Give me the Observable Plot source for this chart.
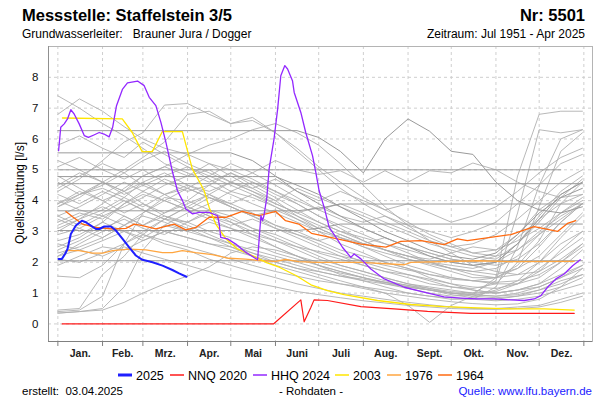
<!DOCTYPE html>
<html><head><meta charset="utf-8">
<script src="https://cdn.jsdelivr.net/npm/d3@7"></script>
<script src="https://cdn.jsdelivr.net/npm/@observablehq/plot@0.6"></script>
<style>body{margin:0;background:#fff}svg{font-family:"Liberation Sans",Arial,sans-serif}</style>
</head><body><div id="chart"></div>
<script>
// ---- axis data ----
const monthStarts = [0,31,59,90,120,151,181,212,243,273,304,334,365];
const monthLabels = ["Jan.","Feb.","Mrz.","Apr.","Mai","Juni","Juli","Aug.","Sept.","Okt.","Nov.","Dez."];
const yTicks = [0,1,2,3,4,5,6,7,8];

// ---- background years (semi-monthly readings) ----
const grayDays = [0,15,31,46,59,74,90,105,120,135,151,166,181,196,212,227,243,258,273,288,304,319,334,349,364];
const flatYears = [
  [6.27,6.27,6.27,6.27,6.27,6.27,6.27,6.27,6.27,6.27,6.27,6.27,6.05,5.6,4.9,6.0,6.65,6.25,5.6,5.5,4.6,4.0,3.7,3.6,3.8],
  [5.55,5.55,5.55,5.55,5.55,5.55,5.55,5.55,5.55,5.3,4.8,4.3,3.9,3.5,3.1,2.8,2.5,2.2,2.0,1.9,2.0,2.6,3.4,4.2,4.6],
  [5.0,5.0,5.0,5.0,5.0,5.0,5.0,5.0,5.0,5.0,5.0,5.0,5.0,5.0,5.0,5.0,5.0,5.0,5.0,5.0,5.0,5.0,5.0,5.0,null],
  [4.78,4.78,4.78,4.78,4.78,4.78,4.78,4.78,4.78,4.78,4.78,4.5,4.2,3.8,3.4,3.0,2.7,2.4,2.2,2.1,2.3,2.9,3.6,4.1,4.4],
  [4.55,4.55,4.55,4.55,4.55,4.55,4.55,4.55,4.55,4.55,4.55,4.55,4.55,4.55,4.55,4.55,4.55,4.55,4.55,4.55,4.55,4.55,4.55,4.55,4.55],
  [3.67,3.67,3.67,3.67,3.67,3.67,3.67,3.67,3.67,3.67,3.67,3.67,3.75,3.89,3.89,3.89,3.89,3.89,3.89,3.89,3.89,3.89,3.89,3.89,3.89],
  [3.03,3.03,3.03,3.03,3.03,3.03,3.03,3.03,3.03,3.03,3.03,3.03,3.1,3.24,3.24,3.24,3.24,3.24,3.24,3.24,3.24,3.24,3.24,3.24,3.24],
  [2.05,2.05,2.05,2.05,2.05,2.05,2.05,2.05,2.05,2.05,2.05,2.05,2.05,2.05,2.05,2.05,2.05,2.05,2.05,2.05,2.05,2.05,2.05,2.05,2.05]
];
const grayYears = [
  [7.4,7.0,6.5,6.1,5.7,5.2,4.9,4.6,4.9,4.5,4.1,3.7,3.3,3.0,2.7,2.4,2.2,2.0,1.8,1.7,1.8,2.2,2.9,3.6,4.1],
  [6.8,7.3,6.9,6.4,6.0,5.7,5.5,5.2,4.8,4.4,4.0,3.5,3.1,2.8,2.5,2.2,1.9,1.7,1.5,1.4,1.3,1.3,1.5,2.0,2.6],
  [4.3,4.7,5.3,5.9,6.2,7.1,7.15,6.8,6.5,6.6,6.2,5.6,5.0,4.4,3.9,3.5,3.1,2.8,2.5,2.3,2.4,2.9,3.7,4.2,4.6],
  [0.35,0.4,0.5,1.2,2.4,3.2,3.6,3.9,4.3,4.1,3.8,3.4,3.0,2.6,2.3,2.0,1.8,1.5,1.3,1.1,1.0,1.1,1.3,1.6,1.9],
  [0.4,0.45,0.9,2.6,3.6,4.1,4.0,4.5,4.9,4.6,4.2,3.9,3.5,3.1,2.7,2.4,2.1,1.9,1.7,1.5,1.5,1.8,2.5,3.3,3.9],
  [0.35,0.4,0.45,0.7,1.0,1.3,1.55,1.85,2.3,2.5,2.4,2.2,2.0,1.8,1.6,1.4,1.25,1.1,0.95,0.85,0.8,0.9,1.1,1.4,1.6],
  [0.45,0.5,1.6,2.2,2.9,3.4,3.3,3.7,3.5,3.1,2.8,2.5,2.2,1.9,1.7,1.5,1.3,1.15,1.0,0.9,0.85,0.9,1.0,1.2,1.5],
  [1.55,1.5,1.9,2.6,3.0,3.4,3.8,4.2,3.9,3.6,3.2,2.9,2.6,2.3,2.0,1.8,1.6,1.4,1.2,1.1,1.0,1.1,1.2,1.5,1.8],
  [3.0,3.4,3.9,4.4,4.8,5.1,5.5,5.8,6.0,6.3,6.5,6.2,5.8,5.2,4.5,3.8,3.2,2.7,2.3,1.9,1.7,1.6,1.7,2.1,2.6],
  [2.2,2.6,3.0,3.5,3.2,3.6,4.0,3.7,3.3,2.9,2.5,2.2,1.9,1.6,1.4,1.2,1.0,0.9,0.8,0.8,1.2,2.5,4.5,6.0,6.3],
  [2.5,2.8,3.3,3.9,4.3,4.0,3.7,3.4,3.1,2.8,2.5,2.2,1.9,1.7,1.5,1.3,1.15,1.0,0.9,0.95,1.5,4.8,6.8,6.9,6.9],
  [3.8,4.2,4.4,4.1,4.6,4.9,4.5,4.2,3.8,3.5,3.1,2.8,2.5,2.2,1.9,1.7,1.5,1.3,1.2,1.15,1.3,2.0,3.8,5.6,6.2],
  [4.8,4.4,4.0,4.3,3.9,3.6,3.9,4.2,4.6,4.3,3.9,3.6,3.3,3.0,2.8,2.6,2.4,2.2,2.0,1.9,2.0,2.4,3.0,3.5,3.9],
  [2.9,3.1,2.8,3.2,3.5,3.3,3.0,2.8,2.6,2.4,2.2,2.0,1.8,1.65,1.5,1.35,1.2,1.1,1.0,0.95,0.9,0.95,1.1,1.3,1.6],
  [4.0,3.7,3.5,3.8,4.1,4.5,4.8,5.2,5.0,4.7,4.3,3.9,3.5,3.2,2.9,2.6,2.3,2.0,1.8,1.6,1.5,1.6,2.0,2.8,3.5],
  [5.3,5.0,4.6,4.2,4.5,4.2,3.8,3.5,3.3,3.0,2.7,2.4,2.1,1.9,1.7,1.5,1.3,1.2,1.1,1.0,1.0,1.1,1.3,1.8,2.4],
  [2.4,2.7,3.1,3.4,3.1,2.9,3.3,3.6,3.4,3.1,2.9,2.6,2.3,2.1,1.9,1.7,1.6,1.45,1.3,1.2,1.15,1.3,1.7,2.4,3.0],
  [3.5,3.8,4.2,4.6,4.3,4.7,4.4,4.8,5.2,4.9,5.3,5.0,4.85,4.97,4.6,4.97,4.6,4.97,4.9,5.22,5.0,4.6,4.3,4.1,4.2],
  [3.8,4.1,4.6,5.0,5.4,5.9,6.8,6.9,6.5,6.7,6.2,5.7,5.1,4.6,4.1,3.7,3.3,2.9,2.6,2.3,2.2,2.4,2.9,3.4,3.9],
  [2.1,2.0,2.3,2.6,2.9,2.7,2.5,2.3,2.1,1.9,1.7,1.55,1.4,1.3,1.2,1.1,1.0,0.9,0.85,0.8,0.75,0.8,0.9,1.1,1.3],
  [3.3,3.6,3.4,3.9,4.2,4.0,3.7,4.1,3.8,3.5,3.2,3.0,2.7,2.4,2.2,2.0,1.8,1.6,1.45,1.4,1.5,1.9,2.7,3.9,4.6],
  [3.9,4.3,4.0,3.6,3.9,3.5,3.2,2.9,2.6,2.3,2.0,1.8,1.6,1.4,1.2,1.0,0.6,0.05,0.6,0.9,1.1,1.4,2.0,2.6,3.0],
  [5.8,6.1,5.7,5.4,5.9,5.5,5.1,4.8,4.5,4.2,3.8,3.5,3.2,2.9,2.6,2.4,2.2,2.0,1.9,1.8,2.0,2.6,3.5,4.3,4.8],
  [4.6,4.2,4.5,4.9,5.3,5.6,5.2,4.9,4.6,4.9,4.5,4.1,3.7,3.4,3.1,2.8,2.5,2.3,2.1,2.0,2.2,2.8,3.4,3.9,4.2],
  [2.7,2.9,3.3,3.0,2.7,3.0,2.8,2.6,2.4,2.2,2.0,1.8,1.7,1.55,1.45,1.35,1.25,1.15,1.05,1.0,1.05,1.3,1.8,2.3,2.8],
  [3.2,3.5,3.8,3.5,3.2,3.5,3.3,3.0,2.8,2.6,2.3,2.1,1.9,1.7,1.5,1.35,1.2,1.1,1.0,1.0,1.4,3.6,6.3,6.2,6.3],
  [4.4,4.8,5.2,4.9,4.5,4.8,5.1,4.7,4.3,4.6,4.3,4.0,3.7,3.9,3.6,3.3,3.0,2.7,2.5,2.6,2.9,3.4,4.0,4.6,5.0],
  [3.5,3.2,3.6,4.0,3.7,3.4,3.8,3.5,3.2,3.4,3.1,2.9,2.7,2.9,2.6,2.4,2.2,2.1,2.3,2.5,2.4,2.7,3.1,3.6,4.0],
  [2.3,2.5,2.8,3.2,3.6,4.0,4.4,4.1,3.8,3.5,3.7,3.4,3.1,2.8,2.5,2.3,2.1,1.95,1.8,1.7,1.6,1.8,2.2,2.9,3.6],
  [5.1,5.4,5.0,4.7,5.0,4.6,4.3,4.5,4.2,3.9,3.6,3.3,3.0,2.8,2.6,2.8,2.5,2.3,2.1,2.0,1.9,2.1,2.6,3.3,3.9],
  [1.9,2.2,2.5,2.4,2.7,3.0,2.8,2.6,2.5,2.3,2.1,1.9,1.7,1.55,1.4,1.3,1.2,1.1,1.0,0.95,0.9,1.0,1.2,1.5,1.9],
  [2.6,2.4,2.7,3.0,2.8,3.2,3.0,3.3,3.1,2.9,2.7,2.5,2.35,2.2,2.05,1.9,1.75,1.6,1.5,1.4,1.35,1.4,1.6,2.0,2.5],
  [3.4,3.1,3.5,3.2,2.9,2.6,2.4,2.1,1.9,1.7,1.5,1.3,1.15,1.0,0.9,0.8,0.7,0.62,0.55,0.5,0.5,0.55,0.6,0.8,1.0],
  [2.2,2.4,2.2,2.5,2.3,2.1,1.9,1.7,1.5,1.35,1.2,1.05,0.95,0.85,0.75,0.68,0.6,0.55,0.5,0.48,0.47,0.5,0.55,0.7,0.9],
  [4.2,3.9,4.3,4.0,3.7,3.4,3.1,2.8,2.5,2.2,1.9,1.7,1.5,1.3,1.15,1.0,0.9,0.8,0.72,0.66,0.62,0.65,0.8,1.2,1.8],
  [3.9,4.2,4.6,4.3,4.8,5.1,4.8,5.0,4.6,4.4,4.7,4.3,4.0,4.3,4.0,3.7,3.9,3.6,3.3,3.5,3.8,4.3,4.9,5.4,5.7],
  [4.5,4.9,4.6,4.3,4.6,4.2,4.4,4.1,3.9,4.2,3.9,3.6,3.8,3.5,3.3,3.5,3.2,3.0,2.8,3.0,3.3,3.9,4.5,5.2,5.5],
  [3.1,3.4,3.7,4.1,3.8,4.2,4.5,4.3,4.6,4.3,4.0,4.4,4.1,3.8,3.5,3.2,2.9,2.6,2.4,2.2,2.1,2.6,3.3,4.1,4.7]
];

// ---- highlighted years: [day of year, Q in l/s] ----
const q2025 = [[0.5,2.11],[2.8,2.11],[5,2.27],[6.7,2.43],[9,2.92],[12.5,3.19],[16.7,3.35],[19.4,3.30],[22.9,3.19],[26.4,3.08],[28.7,3.08],[32.2,3.16],[36.8,3.16],[40.3,3.03],[44.9,2.76],[49.5,2.48],[54.1,2.22],[58.7,2.08],[65.7,2.0],[72.6,1.89],[79.5,1.75],[84.1,1.64],[89.2,1.53]];
const nnq2020 = [[3,0],[149.6,0],[168.6,0.78],[170.9,0.07],[175.6,0.54],[177.8,0.78],[187.1,0.76],[210.3,0.56],[233.4,0.49],[256.5,0.41],[286.6,0.34],[314.4,0.34],[337.5,0.34],[358.3,0.34]];
const hhq2024 = [[0.5,5.62],[2,6.38],[4.4,6.49],[6.7,6.65],[9,6.95],[11.3,6.81],[14.8,6.49],[18.3,6.11],[21.2,6.05],[25,6.13],[28.7,6.21],[32,6.16],[35.6,6.07],[38,6.38],[40.7,7.08],[44.9,7.62],[48.3,7.82],[55.3,7.88],[59.9,7.73],[63.4,7.35],[68,7.08],[71.5,6.54],[75,5.89],[79.6,4.92],[83,4.32],[86.5,4.0],[88.8,3.73],[93.5,3.57],[98,3.62],[105,3.62],[110.8,3.51],[112,3.24],[113,2.81],[117.7,2.76],[123.5,2.59],[130.5,2.32],[138.6,2.08],[140.9,3.51],[142,3.35],[143,3.51],[145,4.1],[146.6,5.03],[150,6.0],[152.5,6.97],[154.7,8.05],[157.5,8.38],[159.4,8.27],[162.8,7.89],[164,7.51],[168.6,6.86],[172,6.21],[176.7,5.46],[179,4.92],[181.3,4.32],[184.8,3.78],[188.3,3.13],[193,2.81],[197.6,2.48],[203.3,2.16],[205.6,2.27],[210.3,2.11],[217.2,1.78],[226.5,1.46],[240.4,1.19],[254,1.03],[267.9,0.88],[279.7,0.84],[291.2,0.81],[302.8,0.81],[314.4,0.78],[323.6,0.76],[330.5,0.81],[335.2,0.92],[339.8,1.19],[345.6,1.46],[351.3,1.62],[357.2,1.89],[362.5,2.08]];
const q2003 = [[3.2,6.68],[44.7,6.65],[51.6,6.21],[58.5,5.59],[65.5,5.59],[72.5,6.24],[86.4,6.24],[93.3,5.03],[99.1,4.54],[101.5,4.32],[105,3.78],[109.6,3.24],[116.6,2.76],[124.6,2.43],[135,2.22],[144.3,2.0],[153.6,1.84],[165.2,1.57],[175.6,1.27],[187.1,1.08],[198.7,0.95],[221.8,0.76],[244.9,0.63],[268,0.56],[291.2,0.52],[314.4,0.49],[337.5,0.49],[358.3,0.45]];
const q1976 = [[5.6,2.38],[14.8,2.38],[24,2.30],[31,2.30],[38,2.38],[49.5,2.43],[61.1,2.40],[72.6,2.31],[79.5,2.31],[86.4,2.38],[95.6,2.31],[107.2,2.25],[118.7,2.13],[130.3,2.10],[141.8,2.05],[151,2.03],[158,2.09],[167.2,2.02],[179,2.0],[210.3,2.0],[240.4,1.92],[245,2.0],[291,2.05],[314.4,2.02],[358.3,2.03]];
const q1964 = [[5.6,3.65],[10.2,3.48],[17,3.24],[26.4,3.13],[38,3.08],[47.2,3.10],[53,3.24],[58.7,3.19],[68,3.08],[80.7,3.24],[88.8,3.05],[95.7,3.13],[105,3.46],[116.6,3.46],[128,3.65],[139.7,3.51],[151.2,3.65],[158,3.35],[167.2,3.24],[176,2.94],[194,2.76],[210.3,2.59],[227.6,2.49],[238,2.68],[252,2.70],[268,2.57],[277.3,2.76],[284.2,2.70],[314.4,2.90],[330.5,3.16],[346.7,3.0],[353.6,3.26],[359.4,3.35]];

const series = [
  {name:"2025", data:q2025, color:"#1f1fff", width:2},
  {name:"NNQ 2020", data:nnq2020, color:"#ff1a1a", width:1.2},
  {name:"HHQ 2024", data:hhq2024, color:"#9328ff", width:1.3},
  {name:"2003", data:q2003, color:"#ffe600", width:1.3},
  {name:"1976", data:q1976, color:"#ffa640", width:1.3},
  {name:"1964", data:q1964, color:"#ff6a10", width:1.3}
];

// ---- build tables ----
function toRows(list){
  const rows=[];
  list.forEach((vals,k)=>vals.forEach((v,i)=>{ if(v!=null) rows.push({day:grayDays[i], q:v, id:k}); }));
  return rows;
}
const grayRows = toRows(grayYears);
const flatRows = toRows(flatYears);
const monthMids = monthStarts.slice(0,-1).map((d,i)=>(d+monthStarts[i+1])/2);
const X0 = -6.5, X1 = 371, Y0 = -0.57, Y1 = 9;

const drawOrder = ["1976","1964","2003","HHQ 2024","NNQ 2020","2025"];
const lineMarks = drawOrder.map(n=>{
  const s = series.find(t=>t.name===n);
  return Plot.line(s.data, {x:d=>d[0], y:d=>d[1], stroke:s.color, strokeWidth:s.width, curve:"linear"});
});

const chart = Plot.plot({
  width:600, height:400,
  marginLeft:48, marginRight:8, marginTop:46, marginBottom:59,
  style:{fontFamily:"Liberation Sans, Arial, sans-serif", background:"white", color:"#000"},
  x:{domain:[X0,X1], axis:null},
  y:{domain:[Y0,Y1], axis:null},
  marks:[
    Plot.gridY(yTicks, {stroke:"#cfcfcf", strokeOpacity:1, strokeDasharray:"3,3"}),
    Plot.gridX(monthStarts, {stroke:"#cfcfcf", strokeOpacity:1, strokeDasharray:"3,3"}),
    Plot.line(grayRows, {x:"day", y:"q", z:"id", stroke:"#b0b0b0", strokeWidth:0.9}),
    Plot.line(flatRows, {x:"day", y:"q", z:"id", stroke:"#9a9a9a", strokeWidth:1}),
    ...lineMarks,
    Plot.frame({stroke:"#b4b4b4"}),
    Plot.ruleY([Y0], {stroke:"#808080"}),
    Plot.ruleX([X0], {stroke:"#909090"}),
    Plot.axisX(monthStarts, {tickSize:5, tickFormat:()=>"", label:null, stroke:"#808080"}),
    Plot.text(monthMids, {x:d=>d, y:Y0, dy:12, text:(d,i)=>monthLabels[i], fontSize:10.5, fontWeight:"bold", fill:"#222"}),
    Plot.text(yTicks, {x:X0, y:d=>d, dx:-10, textAnchor:"end", text:d=>String(d), fontSize:11.5, fill:"#111"})
  ]
});
document.getElementById("chart").append(chart);

// ---- titles, legend, footer ----
const svg = d3.select(chart);
function txt(x,y,s,opt={}){
  return svg.append("text").attr("x",x).attr("y",y).text(s)
    .attr("font-size",opt.size||12).attr("fill",opt.fill||"#000")
    .attr("text-anchor",opt.anchor||"start").attr("font-weight",opt.weight||"normal")
    .style("white-space","pre");
}
txt(22,21,"Messstelle: Staffelstein 3/5",{size:16.5,weight:"bold"});
txt(585,21,"Nr: 5501",{size:16.5,weight:"bold",anchor:"end"});
txt(22,38,"Grundwasserleiter:   Brauner Jura / Dogger",{size:12});
txt(585,38,"Zeitraum: Jul 1951 - Apr 2025",{size:12,anchor:"end"});
svg.append("text").attr("transform","translate(24,193) rotate(-90)").attr("text-anchor","middle")
  .attr("font-size",12).text("Quellschüttung [l/s]");

const legendX = [118,170,253,335,387,438];
series.forEach((s,i)=>{
  svg.append("line").attr("x1",legendX[i]).attr("x2",legendX[i]+14).attr("y1",375).attr("y2",375)
    .attr("stroke",s.color).attr("stroke-width",s.name==="2025"?3:1.5);
  txt(legendX[i]+18,379.5,s.name,{size:12.5});
});
txt(22,395,"erstellt:  03.04.2025",{size:11.5});
txt(311,395,"- Rohdaten -",{size:11.5,anchor:"middle"});
txt(592,395,"Quelle: www.lfu.bayern.de",{size:11.5,anchor:"end",fill:"#1a1aff"});
</script></body></html>
